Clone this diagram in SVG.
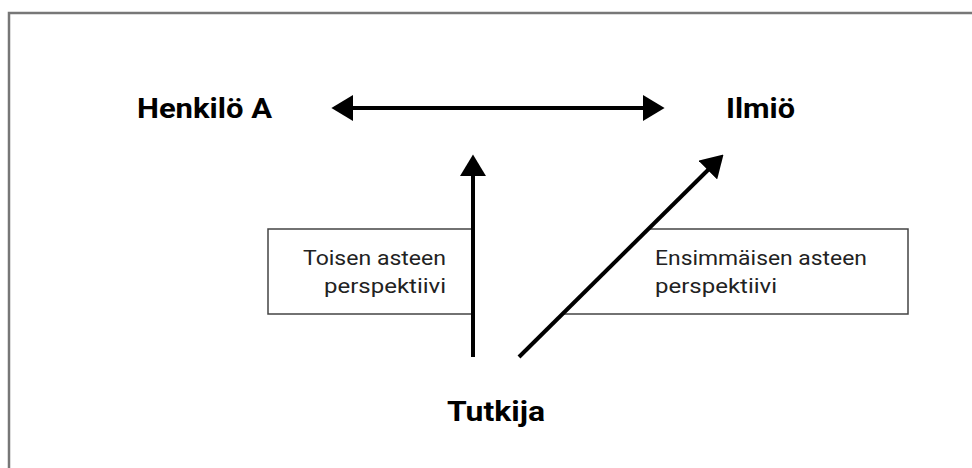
<svg xmlns="http://www.w3.org/2000/svg" width="972" height="468" viewBox="0 0 972 468">
<style>
.lbl{font-family:Roboto,"Liberation Sans",sans-serif;font-weight:bold;font-size:27px;fill:#000}
.box{fill:none;stroke:#444;stroke-width:1.5}
.txt{font-family:Roboto,"Liberation Sans",sans-serif;font-size:20px;fill:#222}
.arr{stroke:#000;stroke-width:4;fill:none}
</style>
<defs>
<marker id="ah" viewBox="0 0 10 12" refX="2" refY="6" markerWidth="5.5" markerHeight="6.6" markerUnits="strokeWidth" orient="auto-start-reverse">
<path d="M0,0 L10,6 L0,12 z" fill="#000"/>
</marker>
</defs>
<rect x="9" y="13" width="980" height="480" fill="none" stroke="#777" stroke-width="2.5"/>
<g id="box-second">
<path class="box" d="M472,229 H268 V314 H472"/>
<text class="txt" x="303" y="265" textLength="143" lengthAdjust="spacingAndGlyphs">Toisen asteen</text>
<text class="txt" x="324" y="293" textLength="122" lengthAdjust="spacingAndGlyphs">perspektiivi</text>
</g>
<g id="box-first">
<path class="box" d="M649,229 H908 V314 H563"/>
<text class="txt" x="655" y="265" textLength="212" lengthAdjust="spacingAndGlyphs">Ensimmäisen asteen</text>
<text class="txt" x="655" y="293" textLength="122" lengthAdjust="spacingAndGlyphs">perspektiivi</text>
</g>
<g id="henkilo"><text class="lbl" x="137" y="118" textLength="135" lengthAdjust="spacingAndGlyphs">Henkilö A</text></g>
<g id="ilmio"><text class="lbl" x="726" y="118" textLength="69" lengthAdjust="spacingAndGlyphs">Ilmiö</text></g>
<g id="tutkija"><text class="lbl" x="447" y="421" textLength="98" lengthAdjust="spacingAndGlyphs">Tutkija</text></g>
<g id="connectors">
<line class="arr" x1="349" y1="108" x2="647" y2="108" marker-start="url(#ah)" marker-end="url(#ah)"/>
<line class="arr" x1="473" y1="357" x2="473" y2="172" marker-end="url(#ah)"/>
<line class="arr" x1="519" y1="357" x2="711" y2="167" marker-end="url(#ah)"/>
</g>
</svg>
